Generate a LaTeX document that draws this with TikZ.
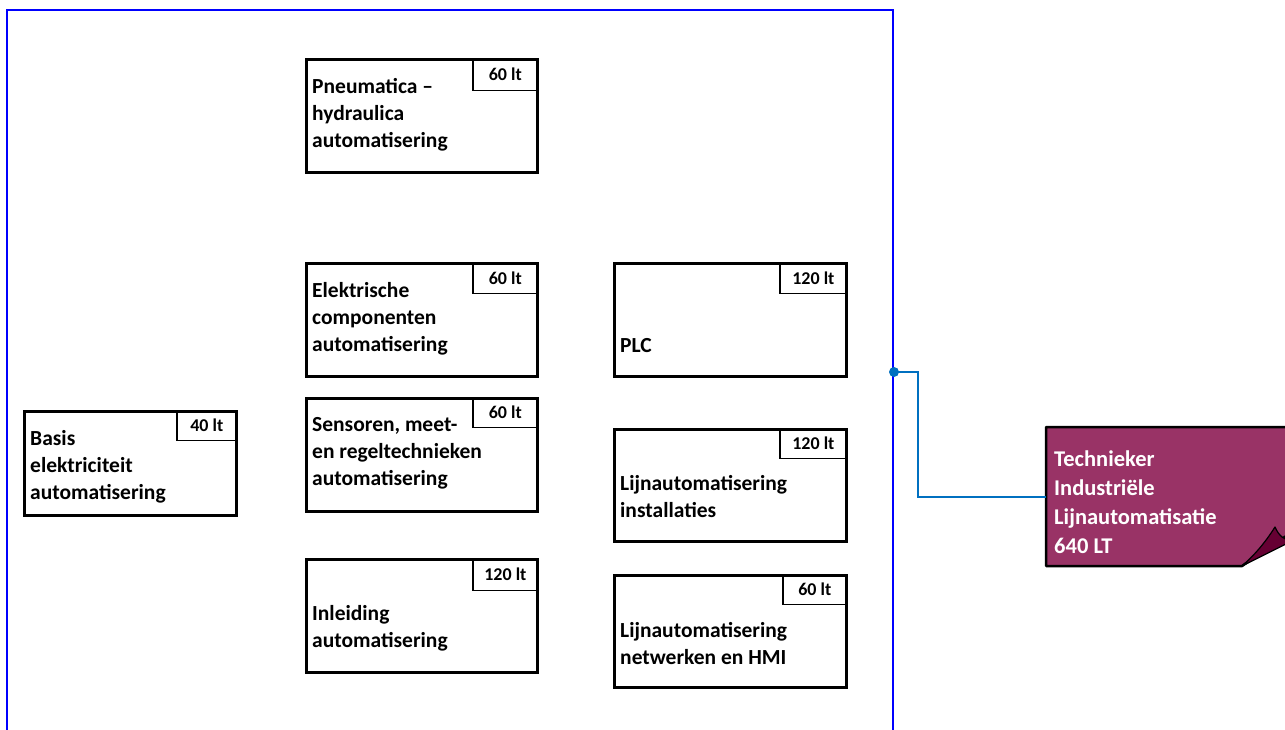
\documentclass[tikz,border=0pt]{standalone}
\usepackage{fontspec}
\setmainfont{Carlito}
\definecolor{frameblue}{RGB}{0,0,255}
\definecolor{connblue}{RGB}{0,112,192}
\definecolor{tlpurple}{RGB}{153,51,102}
\definecolor{tlfold}{RGB}{102,0,51}
\begin{document}
\begin{tikzpicture}[x=1pt,y=-1pt,
  modbox/.style={draw=black, line width=2.5pt, rectangle, inner sep=0pt, anchor=north west, fill=white},
  ltbox/.style={draw=black, line width=1.3pt, rectangle, inner sep=0pt, anchor=north east, font=\bfseries\fontsize{18}{20}\selectfont},
  txt/.style={anchor=west, align=left, inner sep=0pt, font=\bfseries\fontsize{21.5}{27}\selectfont},
  conn/.style={draw=connblue, line width=2pt}
]
\useasboundingbox (0,0) rectangle (1285,729);
% frame
\draw[frameblue, line width=1.5pt] (7,735) -- (7,10) -- (893,10) -- (893,735);

% boxes
\node[modbox, minimum width=231pt, minimum height=113pt] (pn) at (305,58) {};
\node[ltbox, minimum width=65pt, minimum height=32pt] (pnl) at (pn.north east) {60 lt};
\node[txt] (pnt) at (312,114.5) {Pneumatica –\\hydraulica\\automatisering};

\node[modbox, minimum width=231pt, minimum height=113pt] (el) at (305,262) {};
\node[ltbox, minimum width=65pt, minimum height=31pt] (ell) at (el.north east) {60 lt};
\node[txt] (elt) at (312,319) {Elektrische\\componenten\\automatisering};

\node[modbox, minimum width=231pt, minimum height=113pt] (se) at (305,397) {};
\node[ltbox, minimum width=65pt, minimum height=30pt] (sel) at (se.north east) {60 lt};
\node[txt] (set) at (312,453) {Sensoren, meet-\\en regeltechnieken\\automatisering};

\node[modbox, minimum width=231pt, minimum height=113pt] (in) at (305,558) {};
\node[ltbox, minimum width=65pt, minimum height=32pt] (inl) at (in.north east) {120 lt};
\node[txt] (intx) at (312,628) {Inleiding\\automatisering};

\node[modbox, minimum width=232pt, minimum height=113pt] (plc) at (613,262) {};
\node[ltbox, minimum width=67pt, minimum height=31pt] (plcl) at (plc.north east) {120 lt};
\node[txt] (plct) at (620,346) {PLC};

\node[modbox, minimum width=232pt, minimum height=112pt] (li) at (613,428) {};
\node[ltbox, minimum width=67pt, minimum height=30pt] (lil) at (li.north east) {120 lt};
\node[txt] (lit) at (620,497) {Lijnautomatisering\\installaties};

\node[modbox, minimum width=232pt, minimum height=112pt] (ln) at (613,574) {};
\node[ltbox, minimum width=64pt, minimum height=30pt] (lnl) at (ln.north east) {60 lt};
\node[txt] (lnt) at (620,643.5) {Lijnautomatisering\\netwerken en HMI};

\node[modbox, minimum width=212pt, minimum height=104pt] (ba) at (23,410) {};
\node[ltbox, minimum width=60pt, minimum height=30pt] (bal) at (ba.north east) {40 lt};
\node[txt] (bat) at (30,466.5) {Basis\\elektriciteit\\automatisering};

% purple target
\node[rectangle, inner sep=0pt, minimum width=244pt, minimum height=139pt, anchor=north west] (tl) at (1046,427) {};
\draw[black, line width=2.5pt, fill=tlpurple, line join=round]
  (1046,427) -- (1292,427) -- (1292,532) -- (1242,566) -- (1046,566) -- cycle;
\draw[black, line width=1.2pt, fill=tlfold, line join=round]
  (1242,566) .. controls (1258,552) and (1268,538) .. (1275,527)
  .. controls (1279,536) and (1284,540) .. (1292,541) -- cycle;
\node[txt, text=white, font=\bfseries\fontsize{22.5}{29}\selectfont] (tlt) at (1054,502.5) {Technieker\\Industriële\\Lijnautomatisatie\\640 LT};

% connector
\coordinate (dot) at (894,372);
\draw[conn] (dot) -- (918,372) |- (tl.west);
\fill[connblue] (dot) circle (5pt);
\end{tikzpicture}
\end{document}
